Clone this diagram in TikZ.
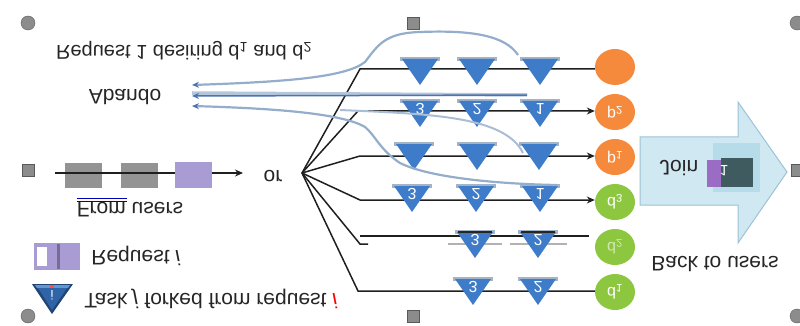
\documentclass[tikz,border=0pt]{standalone}
\usepackage{fontspec}
\setmainfont{Liberation Sans}
\usetikzlibrary{shapes.geometric,arrows.meta}
\definecolor{triC}{HTML}{3E7CC9}
\definecolor{triband}{HTML}{A3B4C6}
\definecolor{orangeC}{HTML}{F68A3C}
\definecolor{greenC}{HTML}{8DC63F}
\definecolor{curveC}{HTML}{94ADCB}
\definecolor{curveD}{HTML}{4E73AE}
\definecolor{lavC}{HTML}{A99BD3}
\definecolor{arrowF}{HTML}{CFE8F2}
\definecolor{arrowB}{HTML}{9CC3D5}
\definecolor{innerC}{HTML}{B7DCE9}
\definecolor{purpC}{HTML}{9A6CC4}
\definecolor{tealC}{HTML}{3F5B60}
\definecolor{handleC}{HTML}{8C8C8C}
\definecolor{legtri}{HTML}{2F64A8}
\newcommand\tk[4]{%
  \fill[triband] (#2-20,#3-1) rectangle (#2+20,#3+3);
  \fill[triC] (#2-18,#3+1) -- (#2+18,#3+1) -- (#2,#3+27) -- cycle;
  \node[numlbl] (#1) at (#2,#3+9) {#4};
}
\begin{document}
\begin{tikzpicture}[x=1pt,y=1pt,yscale=-1,every node/.style={transform shape}]
\tikzset{
 lbl/.style={font=\fontsize{21}{24}\selectfont, inner sep=0pt, text=black!85},
 rowline/.style={draw=black!88, line width=1.5pt},
 hsq/.style={draw=gray!70!black, fill=handleC, minimum size=12pt, inner sep=0pt},
 hci/.style={circle, draw=gray!70!black, fill=handleC, minimum size=14pt, inner sep=0pt},
 pnode/.style={ellipse, fill=orangeC, minimum width=40pt, minimum height=36pt, inner sep=0pt, text=white, font=\fontsize{16}{18}\selectfont},
 dnode/.style={pnode, fill=greenC},
 numlbl/.style={text=white, font=\fontsize{16}{17}\selectfont, inner sep=0pt},
 abline/.style={draw=curveC, line width=2.2pt},
 abtip/.style={-{Stealth[length=7pt,width=6pt,color=curveD]}},
 graysq/.style={fill=gray!85, minimum width=37pt, minimum height=25pt, inner sep=0pt},
 lavsq/.style={fill=lavC, minimum width=37pt, minimum height=26pt, inner sep=0pt},
}
\useasboundingbox (0,0) rectangle (800,326);

% ---- texts on the left
\node[lbl, font=\fontsize{20}{24}\selectfont] (req1) at (184,51) {Request 1 desiring d\textsubscript{1} and d\textsubscript{2}};
\node[lbl] (aband) at (125,97) {Abando};

% ---- from users flow
\node[graysq] (q1) at (83,175) {};
\node[graysq] (q2) at (139,175) {};
\coordinate (fu0) at (55,173);
\coordinate (fu1) at (243,173);
\draw[rowline, line width=1.4pt, -{Stealth[length=8pt,width=7pt]}] (fu0) -- (fu1);
\node[lbl] (q3) at (193,175) [lavsq] {};
\node[lbl] (fromu) at (130,210) {From users};
\draw[blue!70!black, line width=0.8pt] (77,198) -- (127,198);
\draw[blue!70!black, line width=0.8pt] (77,201) -- (127,201);
\node[lbl] (orT) at (273,176) {or};

% ---- legend
\fill[lavC] (34,243) rectangle (80,270);
\fill[white] (37,247) rectangle (47,266);
\fill[lavC!70!black] (57,244) rectangle (60,269);
\node[lbl] (legreq) at (136,256) {Request \textit{i}};
\fill[legtri!70!black] (32,284) -- (73,284) -- (52,314) -- cycle;
\fill[triC!80!white] (35,285) -- (70,285) -- (68,288) -- (37,288) -- cycle;
\fill[legtri] (38,288) -- (67,288) -- (52,310) -- cycle;
\fill[red!70] (50,285) rectangle (54,288);
\node[numlbl, font=\fontsize{13}{14}\selectfont] (legi) at (52,295) {i};
\node[lbl] (legtask) at (211,299) {Task \textit{j} forked from request \textcolor{red}{\textit{i}}};

% ---- fork
\coordinate (F) at (302,173);
\coordinate (s1) at (360,69);
\coordinate (s2) at (358,111);
\coordinate (s3) at (360,156);
\coordinate (s4) at (360,200);
\coordinate (s5) at (360,244);
\coordinate (s5b) at (360,236);
\coordinate (s6) at (358,291);

% ---- circles
\node[pnode] (c1) at (615,67) {};
\node[pnode] (c2) at (615,112) {p\textsubscript{2}};
\node[pnode] (c3) at (615,157) {p\textsubscript{1}};
\node[dnode] (c4) at (615,202) {d\textsubscript{3}};
\node[dnode, text opacity=0.6] (c5) at (615,247) {d\textsubscript{2}};
\node[dnode] (c6) at (615,292) {d\textsubscript{1}};

% ---- row lines
\draw[rowline] (F) -- (s1) -- (s1 -| c1.west);
\draw[rowline, -{Stealth[length=8pt,width=7pt]}] (F) -- (s2) -- (s2 -| c2.west);
\draw[rowline, -{Stealth[length=8pt,width=7pt]}] (F) -- (s3) -- (s3 -| c3.west);
\draw[rowline, -{Stealth[length=8pt,width=7pt]}] (F) -- (s4) -- (s4 -| c4.west);
\draw[rowline] (F) -- (s5) -- ++(8,0);
\draw[rowline] (s5b) -- ([xshift=-6pt]s5b -| c5.west);
\draw[gray!60, line width=1.5pt] (448,244) -- (502,244);
\draw[gray!60, line width=1.5pt] (510,244) -- (567,244);
\draw[rowline] (F) -- (s6) -- (s6 -| c6.west);

% ---- tasks
\tk{t11}{420}{58}{}
\tk{t12}{477}{58}{}
\tk{t13}{540}{58}{}
\tk{t21}{420}{100}{3}
\tk{t22}{477}{100}{2}
\tk{t23}{540}{100}{1}
\tk{t31}{414}{143}{}
\tk{t32}{477}{143}{}
\tk{t33}{539}{143}{}
\tk{t41}{412}{185}{3}
\tk{t42}{476}{185}{2}
\tk{t43}{540}{185}{1}
\tk{t51}{475}{231}{3}
\tk{t52}{538}{231}{2}
\tk{t61}{473}{278}{3}
\tk{t62}{538}{278}{2}
\draw[black!85, line width=1.4pt] (458,232) -- (492,232);
\draw[black!85, line width=1.4pt] (521,232) -- (555,232);

% ---- abandon arrows
\coordinate (a1) at (518,55);
\coordinate (a1e) at (192,85);
\coordinate (a2) at (527,95);
\coordinate (a2e) at (192,96);
\coordinate (a3) at (557,185);
\coordinate (a3e) at (192,106);
\coordinate (a4) at (340,110);
\coordinate (a4e) at (523,153);
\draw[abline, abtip] (a1) .. controls (505,35) and (470,30) .. (420,32)
   .. controls (385,33) and (378,45) .. (365,62)
   .. controls (345,78) and (280,82) .. (a1e);
\draw[draw=curveC!70!white, line width=3.5pt] (a2) -- ([yshift=-3pt]a2e);
\draw[draw=curveD, line width=1.5pt, abtip] (a2) -- (a2e);
\draw[abline, abtip] (a3) .. controls (500,184) and (430,178) .. (400,163)
   .. controls (380,150) and (375,135) .. (365,127)
   .. controls (340,112) and (260,108) .. (a3e);
\draw[draw=curveC!80!white, line width=2pt] (a4) .. controls (430,114) and (505,116) .. (a4e);

% ---- join arrow
\path[fill=arrowF, draw=arrowB, line width=1pt]
  (640,137) -- (738,137) -- (738,102) -- (787,172) -- (738,243) -- (738,205) -- (640,205) -- cycle;
\fill[innerC] (713,143) rectangle (760,192);
\fill[purpC] (707,160) rectangle (731,187);
\fill[tealC] (721,158) rectangle (753,187);
\node[numlbl, font=\fontsize{15}{16}\selectfont] (j1) at (724,171) {1};
\node[lbl] (joinT) at (679,168) {Join};
\node[lbl] (backT) at (715,264) {Back to users};

% ---- handles
\node[hci] (h1) at (28,23) {};
\node[hsq] (h2) at (413,23) {};
\node[hci] (h3) at (797,23) {};
\node[hsq] (h4) at (28,170) {};
\node[hsq] (h5) at (797,170) {};
\node[hci] (h6) at (28,316) {};
\node[hsq] (h7) at (413,316) {};
\node[hci] (h8) at (797,316) {};
\end{tikzpicture}
\end{document}
